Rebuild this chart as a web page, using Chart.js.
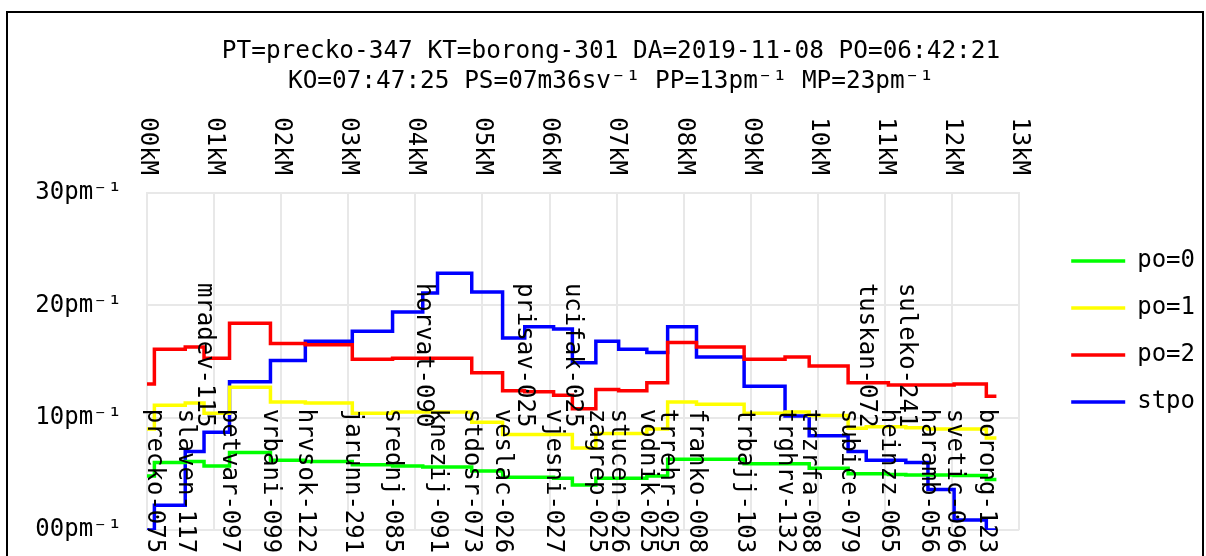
<!DOCTYPE html>
<html>

<head>
    <meta charset="utf-8">
    <script src="https://cdn.jsdelivr.net/npm/chart.js@4.4.1/dist/chart.umd.min.js"></script>
    <style>
        html, body { margin: 0; padding: 0; overflow: hidden; background: #fff; }
        #ramka { position: absolute; left: 6px; top: 11px; width: 1194px; height: 640px; border: 2px solid #000; overflow: hidden; }
    </style>
</head>

<body>
    <div id="ramka">
        <canvas id="wykres" width="1197" height="637" style="width: 1197px; height: 637px;"></canvas>
    </div>
    <script>
        const FONT = "DejaVu Sans Mono";

        const titleLines = [
            "PT=precko-347 KT=borong-301 DA=2019-11-08 PO=06:42:21",
            "KO=07:47:25 PS=07m36sv\u207B\u00B9 PP=13pm\u207B\u00B9 MP=23pm\u207B\u00B9"
        ];

        // stations along the route (km)
        const stationNames = [
            "precko-075", "slaven-117", "mradev-115", "petvar-097", "vrbani-099", "hrvsok-122",
            "jarunn-291", "srednj-085", "horvat-090", "knezij-091", "stdosr-073", "veslac-026",
            "prisav-025", "vjesni-027", "ucifak-025", "zagrep-025", "stucen-026", "vodnik-025",
            "trrehr-025", "franko-008", "trbajj-103", "trghrv-132", "trzrfa-088", "subice-079",
            "tuskan-072", "heinzz-065", "suleko-241", "haramb-056", "svetic-096", "borong-123"
        ];
        const stationKm = [
            0.11, 0.57, 0.85, 1.23, 1.84, 2.36,
            3.06, 3.66, 4.11, 4.33, 4.84, 5.30,
            5.63, 6.06, 6.34, 6.69, 7.03, 7.45,
            7.76, 8.19, 8.90, 9.51, 9.87, 10.45,
            10.72, 11.05, 11.31, 11.64, 12.03, 12.51
        ];
        const startKm = 0;
        const endKm = 12.66;
        // labels that sit higher up so they do not collide
        const liftedLabels = ["mradev-115", "horvat-090", "prisav-025", "ucifak-025", "tuskan-072", "suleko-241"];

        const kmTicks = [0, 1, 2, 3, 4, 5, 6, 7, 8, 9, 10, 11, 12, 13];
        const yTicks = [0, 10, 20, 30];

        const seriesNames = ["po=0", "po=1", "po=2", "stpo"];
        const seriesColors = ["#00ff00", "#ffff00", "#ff0000", "#0000ff"];
        // first value = start of route, then value after each station
        const po0 = [4.8, 6.0, 6.1, 5.7, 6.9, 6.2, 6.1, 5.8, 5.7, 5.6, 5.6, 5.25, 4.7, 4.7, 4.6, 4.0,
            4.6, 4.6, 4.8, 6.3, 6.3, 5.9, 5.9, 5.5, 5.0, 5.0, 4.95, 4.9, 4.9, 4.85, 4.5];
        const po1 = [9.0, 11.1, 11.3, 10.4, 12.7, 11.4, 11.3, 10.4, 10.5, 10.5, 10.5, 9.6, 8.5, 8.5, 8.5, 7.3,
            8.6, 8.6, 9.0, 11.4, 11.2, 10.4, 10.5, 10.2, 9.05, 9.2, 9.2, 9.1, 9.0, 9.0, 8.2];
        const po2 = [13.0, 16.1, 16.3, 15.3, 18.4, 16.6, 16.5, 15.2, 15.3, 15.3, 15.3, 14.0, 12.4, 12.3, 12.0, 10.8,
            12.5, 12.4, 13.1, 16.7, 16.3, 15.2, 15.4, 14.6, 13.1, 13.1, 12.9, 12.9, 12.9, 13.0, 11.9];
        const stpo = [0.0, 2.2, 7.0, 8.7, 13.2, 15.1, 16.8, 17.7, 19.4, 21.1, 22.85, 21.2, 17.1, 18.1, 17.9, 14.9,
            16.8, 16.1, 15.8, 18.1, 15.4, 12.8, 10.15, 8.4, 7.0, 6.2, 6.2, 6.0, 3.6, 0.9, 0.0];

        function schodki(values) {
            const pts = [{ x: startKm, y: values[0] }];
            stationKm.forEach((km, i) => pts.push({ x: km, y: values[i + 1] }));
            pts.push({ x: endKm, y: values[values.length - 1] });
            return pts;
        }

        const kmLabel = k => String(k).padStart(2, "0") + "kM";
        const pmLabel = v => String(v).padStart(2, "0") + "pm\u207B\u00B9";

        const dane = {
            datasets: [po0, po1, po2, stpo].map((vals, i) => ({
                label: seriesNames[i],
                data: schodki(vals),
                borderColor: seriesColors[i],
                backgroundColor: seriesColors[i],
                borderWidth: 3.5,
                stepped: true,
                pointRadius: 0,
                fill: false
            }))
        };

        const gridStyle = { color: "#e8e8e8", lineWidth: 2, drawTicks: false };

        // km labels above the plot and station names inside it, both read top-down
        const napisy = {
            id: "napisy",
            afterDraw(chart) {
                const { ctx, chartArea, scales } = chart;
                const x = scales.x, y = scales.y;
                ctx.save();
                ctx.font = "24px '" + FONT + "'";
                ctx.fillStyle = "#000";
                ctx.textBaseline = "middle";

                ctx.textAlign = "right";
                kmTicks.forEach(k => {
                    ctx.save();
                    ctx.translate(x.getPixelForValue(k), chartArea.top - 18);
                    ctx.rotate(Math.PI / 2);
                    ctx.fillText(kmLabel(k), 0, 0);
                    ctx.restore();
                });

                ctx.textAlign = "left";
                stationNames.forEach((name, i) => {
                    const poziom = liftedLabels.includes(name) ? 22.0 : 10.8;
                    ctx.save();
                    ctx.translate(x.getPixelForValue(stationKm[i]), y.getPixelForValue(poziom));
                    ctx.rotate(Math.PI / 2);
                    ctx.fillText(name, 0, 0);
                    ctx.restore();
                });
                ctx.restore();
            }
        };

        // empty axes that only keep room free (gap before the legend, space for station names)
        const odstep = size => ({
            type: "linear",
            grid: { display: false },
            ticks: { display: false },
            border: { display: false },
            afterFit(s) { if (s.isHorizontal()) s.height = size; else s.width = size; }
        });

        const ctx = document.getElementById("wykres").getContext("2d");
        const wykres = new Chart(ctx, {
            type: "line",
            data: dane,
            plugins: [napisy],
            options: {
                responsive: false,
                animation: false,
                devicePixelRatio: 1,
                layout: { padding: { left: 9 } },
                plugins: {
                    title: {
                        display: true,
                        text: titleLines,
                        color: "#000",
                        font: { family: FONT, size: 24.4, weight: "normal", lineHeight: 1.2 },
                        padding: { top: 24.4, bottom: 10 }
                    },
                    legend: {
                        position: "right",
                        labels: {
                            color: "#000",
                            font: { family: FONT, size: 24 },
                            usePointStyle: true,
                            pointStyle: "line",
                            pointStyleWidth: 54,
                            boxWidth: 54,
                            padding: 23
                        }
                    },
                    tooltip: { enabled: false }
                },
                scales: {
                    x: {
                        type: "linear",
                        position: "top",
                        min: 0,
                        max: 13,
                        ticks: { stepSize: 1, display: false },
                        grid: gridStyle,
                        border: { color: "#e8e8e8", width: 2 },
                        afterFit(s) { s.height = 87.1; }
                    },
                    y: {
                        min: 0,
                        max: 30,
                        ticks: {
                            stepSize: 10,
                            padding: 25,
                            color: "#000",
                            font: { family: FONT, size: 24 },
                            callback: v => pmLabel(v)
                        },
                        grid: gridStyle,
                        border: { color: "#e8e8e8", width: 2 },
                        afterFit(s) { s.width = 130; }
                    },
                    odstep: Object.assign(odstep(29), { axis: "y", position: "right" }),
                    dol: Object.assign(odstep(120), { axis: "x", position: "bottom" })
                }
            }
        });
    </script>
</body>

</html>
